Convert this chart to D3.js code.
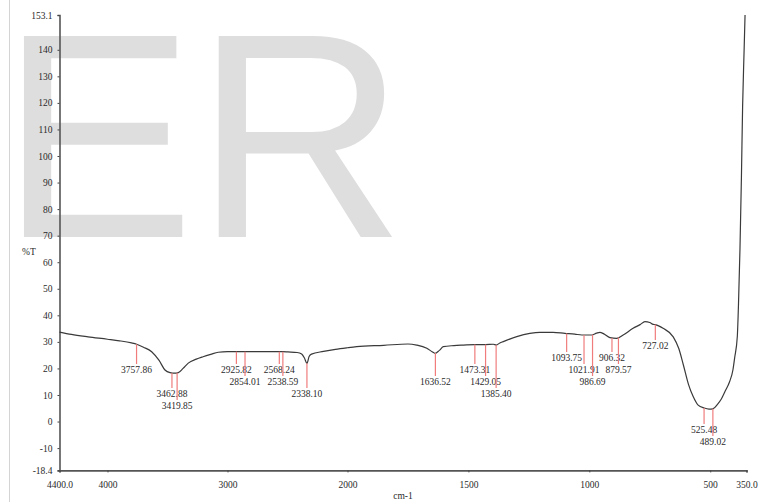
<!DOCTYPE html>
<html>
<head>
<meta charset="utf-8">
<script src="https://cdn.jsdelivr.net/npm/d3@7"></script>
<style>
  html, body { margin: 0; padding: 0; background: #fff; }
  svg { display: block; }
  .tick text, .lbl { font-family: "Liberation Serif", "DejaVu Serif", serif; font-size: 9.5px; fill: #2a2a2a; }
</style>
</head>
<body>
<svg id="chart" width="764" height="502"></svg>
<script>
// IR spectrum: wavenumber (cm-1) and transmittance (%T)
const wavenumbers = [
  4400, 4300, 4162, 4000, 3900, 3800, 3757, 3700, 3632, 3570, 3521, 3479, 3440, 3410, 3370,
  3327, 3260, 3204, 3140, 3077, 3000, 2925, 2854, 2700, 2568, 2538, 2496, 2420, 2382, 2360,
  2338, 2320, 2300, 2200, 2100, 2000, 1962, 1850, 1750, 1714, 1672, 1650, 1638, 1620, 1604,
  1560, 1521, 1473, 1429, 1397, 1385, 1370, 1356, 1300, 1246, 1204, 1150, 1101, 1060, 1031,
  990, 970, 956, 940, 915, 887, 860, 819, 790, 770, 750, 736, 727, 695, 653,
  630, 611, 590, 571, 550, 525, 505, 489, 470, 454, 439, 420, 406, 399, 388,
  383, 377, 371, 366, 360, 356
];
const transmittance = [
  33.7, 32.8, 31.9, 31.0, 30.4, 29.6, 29.1, 28.0, 26.3, 23.0, 19.4, 18.4, 18.2, 18.4, 20.0,
  22.0, 23.5, 24.4, 25.3, 26.1, 26.3, 26.3, 26.3, 26.3, 26.3, 26.3, 26.2, 26.0, 25.4, 24.0,
  21.9, 24.5, 25.4, 26.4, 27.2, 27.8, 28.2, 28.7, 29.2, 28.8, 27.6, 26.3, 25.7, 26.8, 28.2,
  28.6, 28.8, 29.0, 29.0, 29.1, 28.8, 29.6, 30.1, 32.0, 33.2, 33.6, 33.6, 33.2, 32.9, 32.6,
  32.6, 33.3, 33.6, 33.0, 31.6, 31.3, 32.6, 35.1, 36.5, 37.6, 37.3, 36.6, 36.5, 35.1, 31.9,
  27.5, 21.3, 14.0, 9.5, 6.2, 5.1, 4.7, 4.8, 6.5, 8.5, 11.3, 15.0, 19.5, 24.0, 32.0,
  44.5, 65.0, 92.0, 119.0, 139.5, 153.1
];

// Labelled peak positions (cm-1)
const peaks = [
  3757.86, 3462.88, 3419.85, 2925.82, 2854.01, 2568.24, 2538.59, 2338.10, 1636.52,
  1473.31, 1429.05, 1385.40, 1093.75, 1021.91, 986.69, 906.32, 879.57, 727.02, 525.48, 489.02
];

// Axis ticks
const xTickValues = [4400, 4000, 3000, 2000, 1500, 1000, 500, 350];
const xTickLabels = ["4400.0", "4000", "3000", "2000", "1500", "1000", "500", "350.0"];
const yTickValues = [153.1, 140, 130, 120, 110, 100, 90, 80, 70, 60, 50, 40, 30, 20, 10, 0, -10, -18.4];
const yTickLabels = ["153.1", "140", "130", "120", "110", "100", "90", "80", "70", "60", "50", "40", "30", "20", "10", "0", "-10", "-18.4"];

const svg = d3.select("#chart");

// Wavenumber axis is expanded 2x below 2000 cm-1
const x = d3.scaleLinear().domain([4400, 2000, 350]).range([59.5, 347.5, 746.5]);
const y = d3.scaleLinear().domain([-18.4, 153.1]).range([470.4, 15]);

// frame edge on the left
svg.append("line").attr("x1", 9.5).attr("x2", 9.5).attr("y1", 0).attr("y2", 502)
  .attr("stroke", "#d4d4d4").attr("stroke-width", 1);

// big watermark behind the plot
svg.append("text")
  .attr("x", 0).attr("y", 237)
  .attr("font-family", "'Liberation Sans', Arial, sans-serif")
  .attr("font-size", 292)
  .attr("fill", "#dedede")
  .text("ER");

// axes
const yAxis = d3.axisLeft(y).tickValues(yTickValues)
  .tickFormat((d, i) => yTickLabels[i]).tickSize(2).tickPadding(5);
const gy = svg.append("g").attr("transform", "translate(59.5,0)").call(yAxis);
gy.select(".domain").attr("stroke", "#555").attr("stroke-width", 1.6);
gy.selectAll(".tick line").attr("stroke", "#444");

const xAxis = d3.axisBottom(x).tickValues(xTickValues)
  .tickFormat((d, i) => xTickLabels[i]).tickSize(2).tickPadding(9);
const gx = svg.append("g").attr("transform", "translate(0,470.4)").call(xAxis);
gx.select(".domain").attr("stroke", "#555").attr("stroke-width", 1.6);
gx.selectAll(".tick line").attr("stroke", "#444");

svg.append("text").attr("class", "lbl").attr("x", 403).attr("y", 499)
  .attr("text-anchor", "middle").text("cm-1");
svg.append("text").attr("class", "lbl").attr("x", 22).attr("y", 255).text("%T");

// spectrum
const spectrum = wavenumbers.map((w, i) => [w, transmittance[i]]);
svg.append("path")
  .datum(spectrum)
  .attr("fill", "none")
  .attr("stroke", "#3a3a3a")
  .attr("stroke-width", 1.2)
  .attr("d", d3.line().x(d => x(d[0])).y(d => y(d[1])).curve(d3.curveMonotoneX));

// transmittance at any wavenumber
function valueAt(w) {
  for (let i = 0; i < wavenumbers.length - 1; i++) {
    const a = wavenumbers[i], b = wavenumbers[i + 1];
    if (w <= a && w >= b) {
      const t = (a - w) / (a - b);
      return transmittance[i] + t * (transmittance[i + 1] - transmittance[i]);
    }
  }
  return transmittance[transmittance.length - 1];
}

// peak markers: labels drop into rows below the curve, stepping down to avoid overlaps
const rowTop = 345, rowStep = 12, minDrop = 17, labelW = 31;
const placed = [];
const gp = svg.append("g");
peaks.forEach(p => {
  const px = x(p);
  const cy = y(valueAt(p));
  let k = Math.max(0, Math.ceil((cy + minDrop - rowTop) / rowStep));
  const clash = r => placed.some(q => q.row === r && Math.abs(q.x - px) < labelW + 1);
  while (clash(k)) k++;
  placed.push({ x: px, row: k });
  const ly = rowTop + k * rowStep;
  gp.append("line")
    .attr("x1", px).attr("x2", px).attr("y1", cy).attr("y2", ly - 5)
    .attr("stroke", "#f07c7c").attr("stroke-width", 1.2);
  gp.append("text").attr("class", "lbl")
    .attr("x", px).attr("y", ly + 3.5)
    .attr("text-anchor", "middle")
    .text(p.toFixed(2));
});
</script>
</body>
</html>
